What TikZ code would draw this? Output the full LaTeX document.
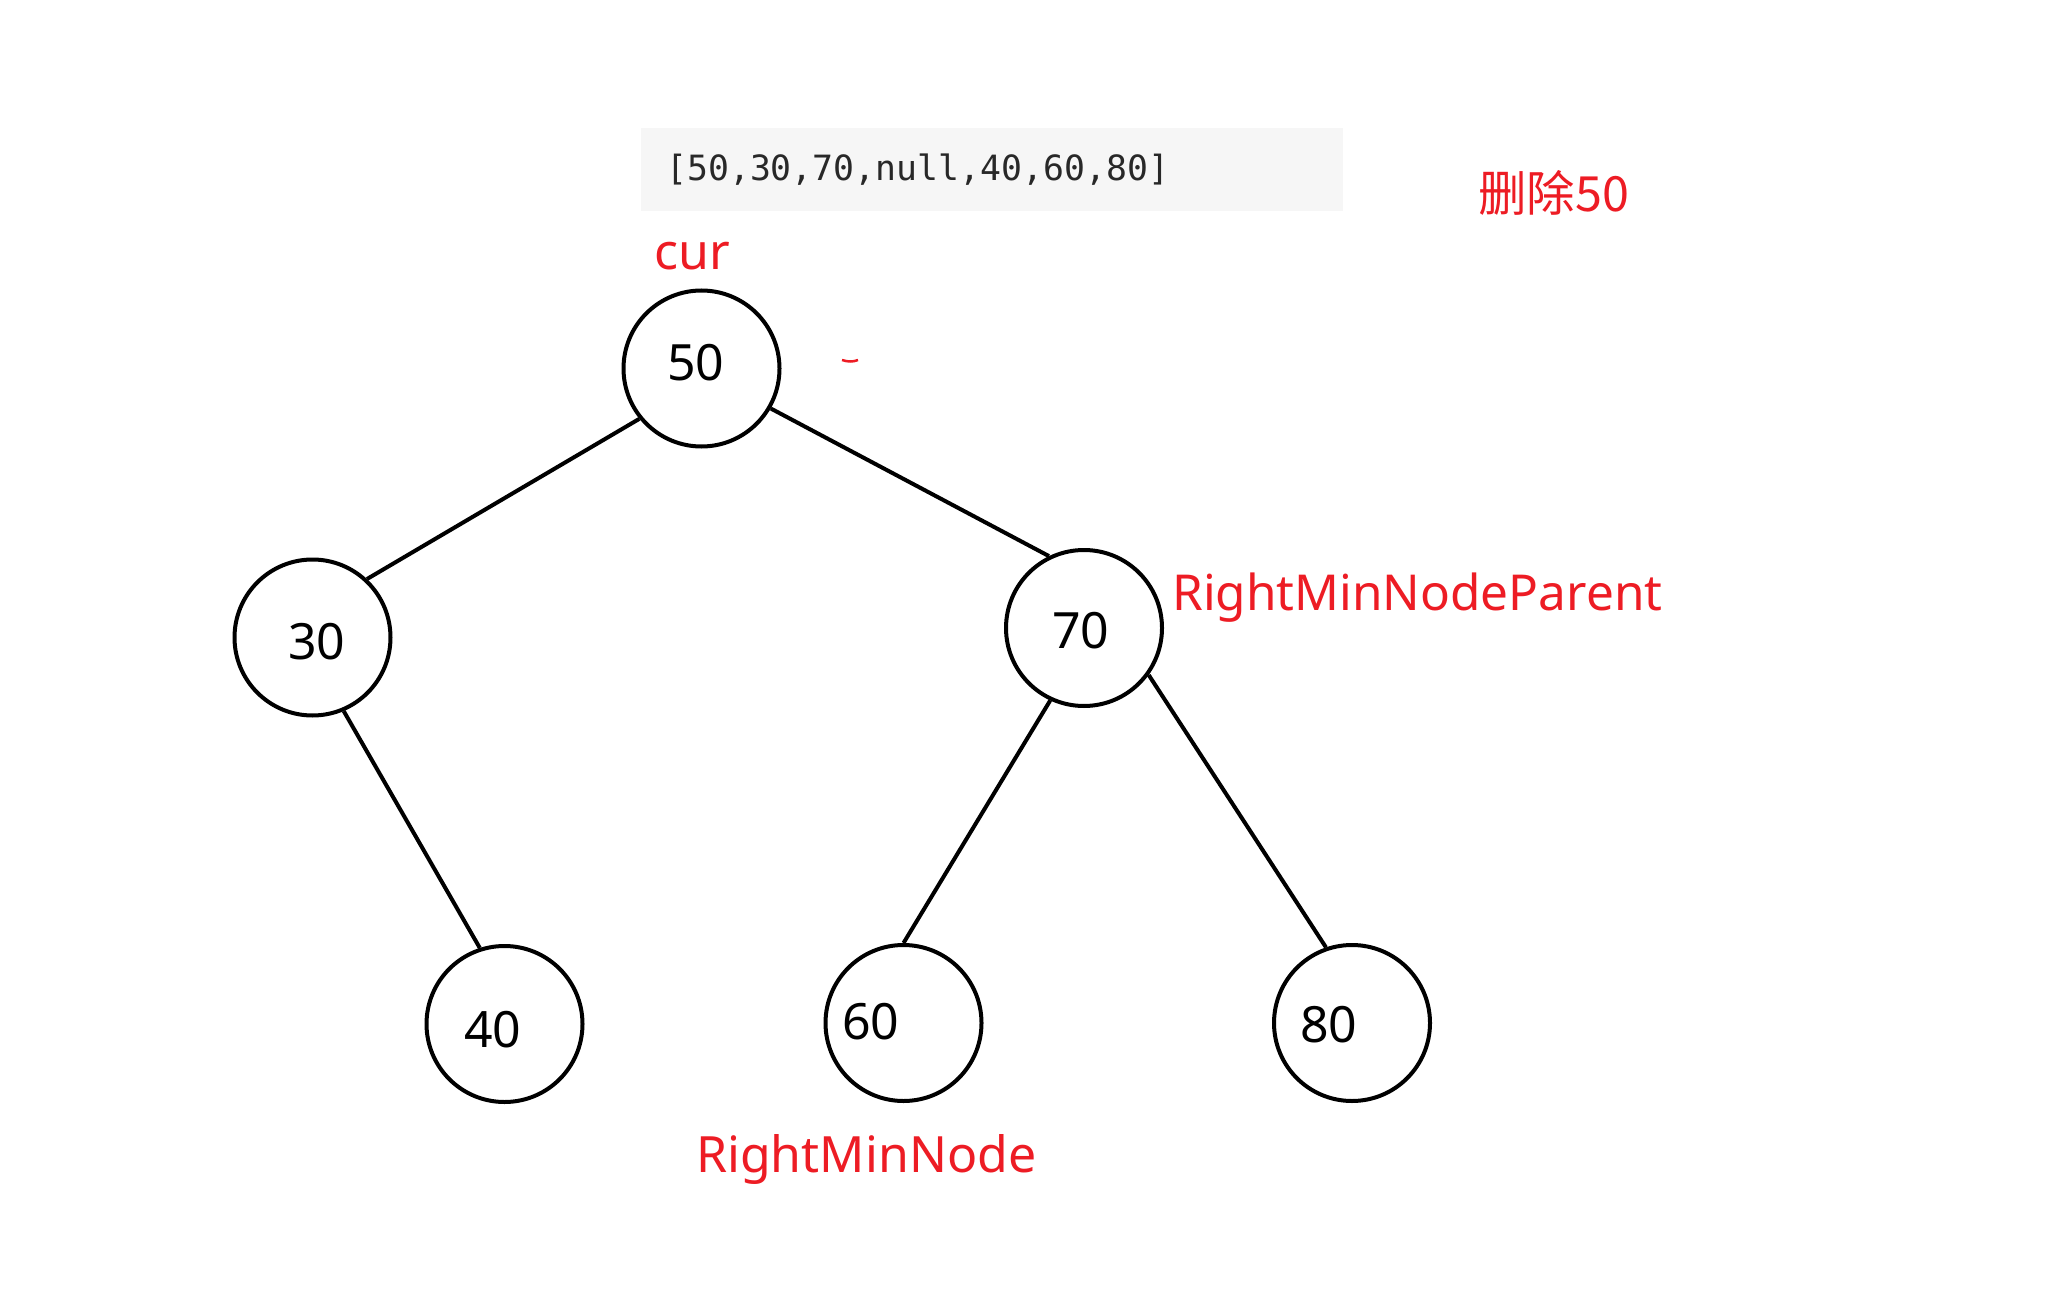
\documentclass[tikz,border=0pt]{standalone}
\usepackage{fontspec}
\setmainfont{Noto Sans}
\newfontfamily\cjkfont{Noto Sans CJK SC}
\newfontfamily\codefont{DejaVu Sans Mono}
\definecolor{labelred}{RGB}{237,28,36}
\definecolor{codebg}{RGB}{246,246,246}
\definecolor{codetext}{RGB}{40,40,40}
\tikzset{
  treenode/.style={circle, draw=black, line width=4pt, minimum size=156pt, inner sep=0pt},
  numtext/.style={anchor=base west, inner sep=0pt, font=\fontsize{50}{60}\selectfont},
  redtext/.style={anchor=base west, inner sep=0pt, text=labelred, font=\fontsize{50}{60}\selectfont},
  edge/.style={line width=4pt, black},
}
\begin{document}
\begin{tikzpicture}[x=1pt, y=-1pt]
\useasboundingbox (0,0) rectangle (2063,1305);
% code box
\node[fill=codebg, minimum width=702pt, minimum height=83pt, inner sep=0pt, anchor=north west] (box) at (641,128) {};
\node[anchor=west, inner sep=0pt, text=codetext, font=\codefont\fontsize{34.8}{40}\selectfont] (code) at (666,170) {[50,30,70,null,40,60,80]};
% nodes
\node[treenode] (n50) at (701.5,368.5) {};
\node[treenode] (n30) at (312.5,637.5) {};
\node[treenode] (n70) at (1084,628) {};
\node[treenode] (n40) at (504.5,1024) {};
\node[treenode] (n60) at (903.5,1023) {};
\node[treenode] (n80) at (1352,1023) {};
% numbers
\node[numtext] (t50) at (667,381) {50};
\node[numtext] (t30) at (288,659) {30};
\node[numtext] (t70) at (1052,648) {70};
\node[numtext] (t40) at (464,1047) {40};
\node[numtext] (t60) at (842,1039) {60};
\node[numtext] (t80) at (1300,1042) {80};
% edges
\draw[edge] (n50.219) -- (n30.47);
\draw[edge] (n50.330) -- (n70.116);
\draw[edge] (n30.293) -- (n40.108);
\draw[edge] (n70.245) -- (n60.north);
\draw[edge] (n70.324) -- (n80.109);
% red labels
\node[redtext] (cur) at (654,270) {cur};
\node[redtext, font=\fontsize{49.5}{60}\selectfont] (rmnp) at (1172,610) {RightMinNodeParent};
\node[redtext] (rmn) at (696,1172) {RightMinNode};
\node[anchor=base west, inner sep=0pt, text=labelred, font=\cjkfont\fontsize{48.5}{58}\selectfont] (del) at (1478,212) {删除50};
% stray mark
\coordinate (m1) at (842,360);
\coordinate (m2) at (858,360);
\draw[labelred, line width=2.5pt] (m1) .. controls (848,362) and (853,362) .. (m2);
\end{tikzpicture}
\end{document}
